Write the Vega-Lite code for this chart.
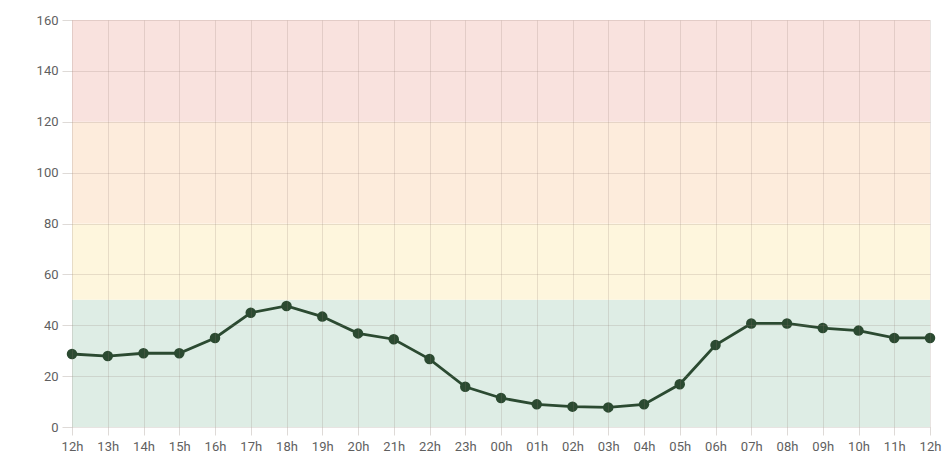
{
  "$schema": "https://vega.github.io/schema/vega-lite/v6.json",
  "width": 858,
  "height": 407,
  "autosize": {"type": "none"},
  "padding": {"left": 72, "top": 20, "right": 18, "bottom": 31},
  "background": "white",
  "config": {
    "view": {"stroke": null},
    "axis": {
      "labelFont": "Roboto",
      "labelFontSize": 13,
      "labelColor": "#5f5f5f",
      "gridColor": "#8a7a70",
      "gridOpacity": 0.2,
      "tickColor": "#8a7a70",
      "tickOpacity": 0.28,
      "domain": false,
      "title": null
    }
  },
  "datasets": {
    "bands": [
      {"lo": 0, "hi": 50, "level": "good"},
      {"lo": 50, "hi": 80, "level": "moderate"},
      {"lo": 80, "hi": 120, "level": "poor"},
      {"lo": 120, "hi": 160, "level": "bad"}
    ],
    "series": [
      {"slot": "12h", "value": 28.7},
      {"slot": "13h", "value": 27.9},
      {"slot": "14h", "value": 29},
      {"slot": "15h", "value": 29},
      {"slot": "16h", "value": 35},
      {"slot": "17h", "value": 44.9},
      {"slot": "18h", "value": 47.6},
      {"slot": "19h", "value": 43.4},
      {"slot": "20h", "value": 36.8},
      {"slot": "21h", "value": 34.5},
      {"slot": "22h", "value": 26.7},
      {"slot": "23h", "value": 15.8},
      {"slot": "00h", "value": 11.4},
      {"slot": "01h", "value": 8.9},
      {"slot": "02h", "value": 8},
      {"slot": "03h", "value": 7.7},
      {"slot": "04h", "value": 8.9},
      {"slot": "05h", "value": 16.8},
      {"slot": "06h", "value": 32.2},
      {"slot": "07h", "value": 40.7},
      {"slot": "08h", "value": 40.7},
      {"slot": "09h", "value": 38.9},
      {"slot": "10h", "value": 37.9},
      {"slot": "11h", "value": 35},
      {"slot": "12h+", "value": 35}
    ]
  },
  "layer": [
    {
      "data": {"name": "bands"},
      "mark": {"type": "rect"},
      "encoding": {
        "y": {"field": "lo", "type": "quantitative", "scale": {"domain": [0, 160]}},
        "y2": {"field": "hi"},
        "color": {
          "field": "level",
          "type": "nominal",
          "scale": {
            "domain": ["good", "moderate", "poor", "bad"],
            "range": ["#deede5", "#fef6dd", "#fdecdc", "#f9e2de"]
          },
          "legend": null
        }
      }
    },
    {
      "data": {"name": "series"},
      "mark": {"type": "line", "color": "#2b4a31", "strokeWidth": 2.8,
        "point": {"filled": true, "size": 110, "color": "#2b4a31", "opacity": 1}},
      "encoding": {
        "x": {
          "field": "slot",
          "type": "ordinal",
          "sort": null,
          "scale": {"type": "point", "padding": 0},
          "axis": {
            "grid": true,
            "zindex": 1,
            "labelAngle": 0,
            "tickSize": 8,
            "labelPadding": 5,
            "labelExpr": "replace(datum.label, '+', '')"
          }
        },
        "y": {
          "field": "value",
          "type": "quantitative",
          "scale": {"domain": [0, 160]},
          "axis": {"values": [0, 20, 40, 60, 80, 100, 120, 140, 160], "grid": true, "zindex": 1, "tickSize": 10, "labelPadding": 4}
        }
      }
    }
  ]
}
